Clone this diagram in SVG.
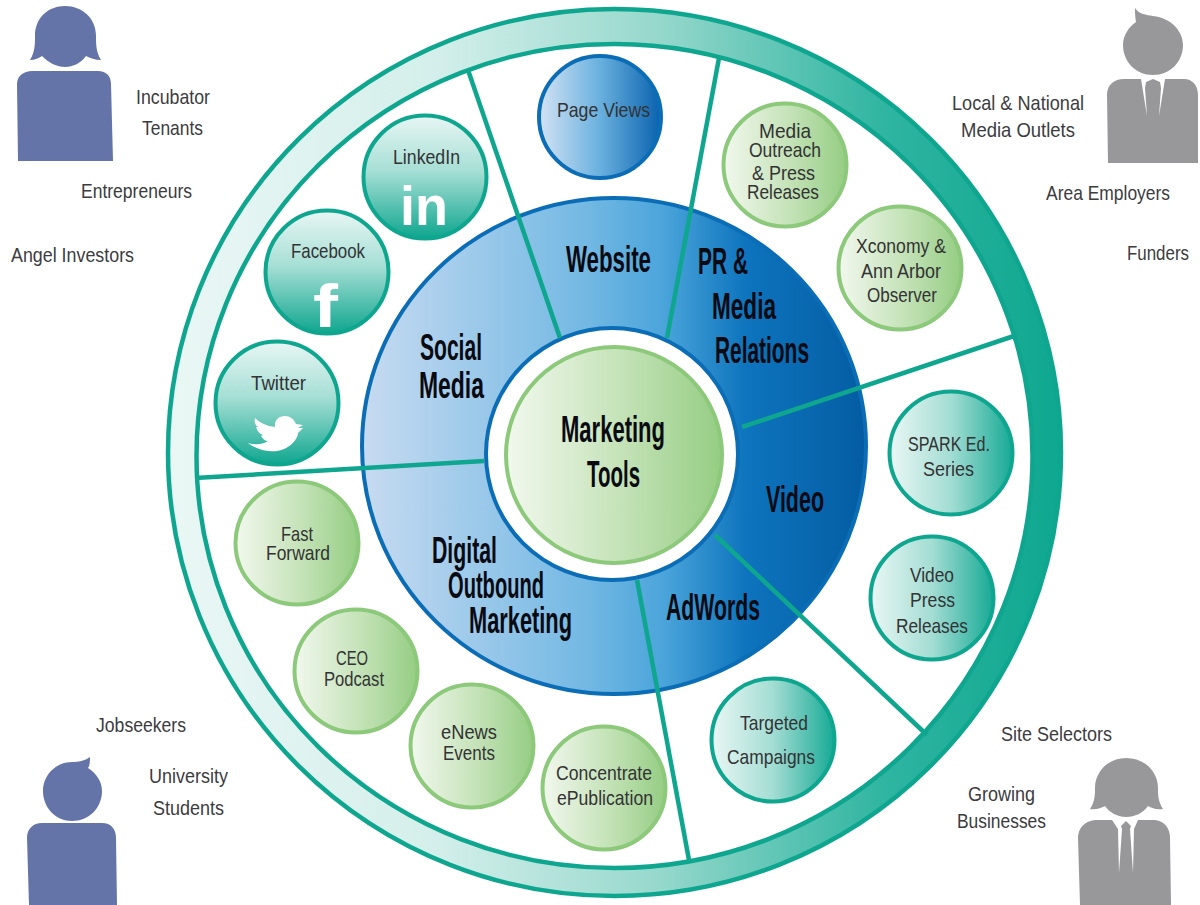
<svg xmlns="http://www.w3.org/2000/svg" width="1200" height="905" viewBox="0 0 1200 905">
<style>
text{font-family:"Liberation Sans",Arial,sans-serif}
.s{font-size:21px;fill:#3c3c3e}
.c{font-size:21px;fill:#333335}
.b{font-size:36px;font-weight:bold;fill:#0a0a12}
.ico{font-weight:bold;fill:#fff}
.spoke{stroke:#0fa68f;stroke-width:4.500;fill:none}
.tealv{fill:url(#tealV);stroke:#0fa68f;stroke-width:4}
.tealh{fill:url(#tealH);stroke:#0fa68f;stroke-width:4}
.green{fill:url(#grn);stroke:#8cc97b;stroke-width:4}
.blue{fill:#6474a8}
.grey{fill:#98989a}
</style>
<defs>
<linearGradient id="ringG" gradientUnits="userSpaceOnUse" x1="166" y1="0" x2="1063" y2="0"><stop offset="0" stop-color="#eaf7f5"/><stop offset=".3" stop-color="#d4efeb"/><stop offset=".55" stop-color="#96d8cc"/><stop offset=".8" stop-color="#2fb5a1"/><stop offset="1" stop-color="#0ea78f"/></linearGradient>
<linearGradient id="blueG" gradientUnits="userSpaceOnUse" x1="360" y1="0" x2="868" y2="0"><stop offset="0" stop-color="#c8dbf1"/><stop offset=".45" stop-color="#72b8e3"/><stop offset=".6" stop-color="#4aa4da"/><stop offset=".76" stop-color="#0d74bd"/><stop offset="1" stop-color="#045ca2"/></linearGradient>
<linearGradient id="tealV" x1="0" y1="0" x2="0" y2="1"><stop offset="0" stop-color="#e8f6f4"/><stop offset=".45" stop-color="#a6dfd5"/><stop offset="1" stop-color="#0fa68f"/></linearGradient>
<linearGradient id="tealH" x1="0" y1="0" x2="1" y2="0"><stop offset="0" stop-color="#eaf7f5"/><stop offset=".5" stop-color="#a3ddd3"/><stop offset="1" stop-color="#16aa95"/></linearGradient>
<linearGradient id="grn" x1="0" y1="0" x2="1" y2="0"><stop offset="0" stop-color="#f2f8ee"/><stop offset=".55" stop-color="#c3e2b6"/><stop offset="1" stop-color="#95cd83"/></linearGradient>
<linearGradient id="pv" x1="0" y1="0" x2="1" y2="0"><stop offset="0" stop-color="#d3e3f4"/><stop offset=".5" stop-color="#69b0de"/><stop offset="1" stop-color="#0a62ae"/></linearGradient>
</defs>

<g id="outer-ring">
<path fill="url(#ringG)" stroke="#0fa68f" stroke-width="4.500" fill-rule="evenodd" d="M168,452.500a446.500,443.500 0 1,0 893,0a446.500,443.500 0 1,0 -893,0ZM196.500,456a418,412 0 1,0 836,0a418,412 0 1,0 -836,0Z"/>
</g>
<g id="category-ring">
<ellipse cx="614" cy="446" rx="252" ry="248" fill="url(#blueG)" stroke="#0b6db6" stroke-width="4"/>
<circle cx="612" cy="454" r="126" fill="#fff" stroke="#0b6db6" stroke-width="4"/>
</g>
<g id="connectors">
<line class="spoke" x1="468" y1="70" x2="560" y2="338"/>
<line class="spoke" x1="719" y1="58" x2="667" y2="338"/>
<line class="spoke" x1="1017" y1="335" x2="742" y2="427"/>
<line class="spoke" x1="927" y1="735" x2="715" y2="535"/>
<line class="spoke" x1="689" y1="860" x2="637" y2="580"/>
<line class="spoke" x1="195" y1="478" x2="484" y2="461"/>
</g>
<g id="category-labels">
<text class="b" x="566" y="272" textLength="85" lengthAdjust="spacingAndGlyphs">Website</text>
<text class="b" x="698" y="274" textLength="50" lengthAdjust="spacingAndGlyphs">PR &amp;</text>
<text class="b" x="712" y="319" textLength="64" lengthAdjust="spacingAndGlyphs">Media</text>
<text class="b" x="715" y="363" textLength="94" lengthAdjust="spacingAndGlyphs">Relations</text>
<text class="b" x="420" y="360" textLength="62" lengthAdjust="spacingAndGlyphs">Social</text>
<text class="b" x="419" y="398" textLength="65" lengthAdjust="spacingAndGlyphs">Media</text>
<text class="b" x="766" y="512" textLength="58" lengthAdjust="spacingAndGlyphs">Video</text>
<text class="b" x="666" y="620" textLength="94" lengthAdjust="spacingAndGlyphs">AdWords</text>
<text class="b" x="432" y="563" textLength="65" lengthAdjust="spacingAndGlyphs">Digital</text>
<text class="b" x="448" y="598" textLength="96" lengthAdjust="spacingAndGlyphs">Outbound</text>
<text class="b" x="469" y="633" textLength="103" lengthAdjust="spacingAndGlyphs">Marketing</text>
</g>
<g id="center">
<circle cx="614" cy="455" r="108" fill="url(#grn)" stroke="#8cc97b" stroke-width="4"/>
<text class="b" x="561" y="442" textLength="104" lengthAdjust="spacingAndGlyphs">Marketing</text>
<text class="b" x="587" y="487" textLength="53" lengthAdjust="spacingAndGlyphs">Tools</text>
</g>
<g id="page-views">
<circle cx="600" cy="117" r="61" fill="url(#pv)" stroke="#0b6db6" stroke-width="4"/>
<text class="c" x="557" y="117" textLength="93" lengthAdjust="spacingAndGlyphs">Page Views</text>
</g>
<g id="media-outreach">
<circle class="green" cx="785" cy="165" r="61.500"/>
<text class="c" x="759" y="138" textLength="52" lengthAdjust="spacingAndGlyphs">Media</text>
<text class="c" x="749" y="157" textLength="72" lengthAdjust="spacingAndGlyphs">Outreach</text>
<text class="c" x="752" y="180" textLength="63" lengthAdjust="spacingAndGlyphs">&amp; Press</text>
<text class="c" x="747" y="199" textLength="72" lengthAdjust="spacingAndGlyphs">Releases</text>
</g>
<g id="xconomy">
<circle class="green" cx="900" cy="268" r="61.500"/>
<text class="c" x="856" y="253" textLength="90" lengthAdjust="spacingAndGlyphs">Xconomy &amp;</text>
<text class="c" x="861" y="278" textLength="80" lengthAdjust="spacingAndGlyphs">Ann Arbor</text>
<text class="c" x="867" y="302" textLength="70" lengthAdjust="spacingAndGlyphs">Observer</text>
</g>
<g id="linkedin">
<circle class="tealv" cx="425" cy="177" r="61.500"/>
<text class="c" x="393" y="164" textLength="67" lengthAdjust="spacingAndGlyphs">LinkedIn</text>
<text class="ico" x="400" y="225" font-size="55" textLength="48" lengthAdjust="spacingAndGlyphs">in</text>
</g>
<g id="facebook">
<circle class="tealv" cx="327" cy="272" r="61.500"/>
<text class="c" x="291" y="258" textLength="74" lengthAdjust="spacingAndGlyphs">Facebook</text>
<text class="ico" x="313" y="327" font-size="62" textLength="25" lengthAdjust="spacingAndGlyphs">f</text>
</g>
<g id="twitter">
<circle class="tealv" cx="277" cy="403" r="61.500"/>
<text class="c" x="251" y="390" textLength="55" lengthAdjust="spacingAndGlyphs">Twitter</text>
<path fill="#fff" d="M248,443C257,450 268,452 277,451C290,449 298,439 298,433L303,428L298,428L303,425L296,424C294,419 290,416 285,416C278,416 274,421 275,427C267,426 260,423 255,418C254,422 255,425 258,427L256,427C257,431 260,434 263,435L261,436C263,439 265,441 268,441C262,445 255,445 248,443Z"/>
</g>
<g id="spark">
<circle class="tealh" cx="951" cy="453" r="61.500"/>
<text class="c" x="908" y="451" textLength="82" lengthAdjust="spacingAndGlyphs">SPARK Ed.</text>
<text class="c" x="923" y="476" textLength="51" lengthAdjust="spacingAndGlyphs">Series</text>
</g>
<g id="video-press">
<circle class="tealh" cx="932" cy="598" r="61.500"/>
<text class="c" x="910" y="582" textLength="44" lengthAdjust="spacingAndGlyphs">Video</text>
<text class="c" x="910" y="607" textLength="45" lengthAdjust="spacingAndGlyphs">Press</text>
<text class="c" x="896" y="633" textLength="72" lengthAdjust="spacingAndGlyphs">Releases</text>
</g>
<g id="targeted">
<circle class="tealh" cx="773" cy="740" r="61.500"/>
<text class="c" x="740" y="730" textLength="68" lengthAdjust="spacingAndGlyphs">Targeted</text>
<text class="c" x="727" y="764" textLength="88" lengthAdjust="spacingAndGlyphs">Campaigns</text>
</g>
<g id="fast-forward">
<circle class="green" cx="297" cy="543" r="61.500"/>
<text class="c" x="281" y="541" textLength="32" lengthAdjust="spacingAndGlyphs">Fast</text>
<text class="c" x="266" y="560" textLength="64" lengthAdjust="spacingAndGlyphs">Forward</text>
</g>
<g id="ceo-podcast">
<circle class="green" cx="356" cy="671" r="61.500"/>
<text class="c" x="336" y="665" textLength="32" lengthAdjust="spacingAndGlyphs">CEO</text>
<text class="c" x="324" y="686" textLength="60" lengthAdjust="spacingAndGlyphs">Podcast</text>
</g>
<g id="enews">
<circle class="green" cx="472" cy="746" r="61.500"/>
<text class="c" x="441" y="739" textLength="56" lengthAdjust="spacingAndGlyphs">eNews</text>
<text class="c" x="443" y="760" textLength="52" lengthAdjust="spacingAndGlyphs">Events</text>
</g>
<g id="concentrate">
<circle class="green" cx="604" cy="788" r="61.500"/>
<text class="c" x="556" y="780" textLength="96" lengthAdjust="spacingAndGlyphs">Concentrate</text>
<text class="c" x="557" y="805" textLength="96" lengthAdjust="spacingAndGlyphs">ePublication</text>
</g>
<g id="person-top-left">
<path class="blue" d="M30,60C35,52 35,44 35,36C35,18 48,6 65,6C82,6 96,18 96,36C96,44 96,52 101,60C95,60 90,58 86,56C81,63 73,67 65,67C57,67 49,63 42,56C39,58 35,60 30,60Z"/>
<path class="blue" d="M17,84C17,76 24,71 32,71L98,71C106,71 111,76 111,84L113,161L18,161Z"/>
<text class="s" x="136" y="104" textLength="74" lengthAdjust="spacingAndGlyphs">Incubator</text>
<text class="s" x="142" y="135" textLength="61" lengthAdjust="spacingAndGlyphs">Tenants</text>
<text class="s" x="81" y="198" textLength="111" lengthAdjust="spacingAndGlyphs">Entrepreneurs</text>
<text class="s" x="11" y="262" textLength="123" lengthAdjust="spacingAndGlyphs">Angel Investors</text>
</g>
<g id="person-top-right">
<path class="grey" d="M1135,8C1139,14 1146,15 1153,16C1171,18 1183,31 1183,45C1183,62 1170,75 1153,75C1136,75 1123,62 1123,45C1123,35 1129,27 1136,22C1135,17 1135,12 1135,8Z"/>
<path class="grey" d="M1107,95C1107,85 1114,79 1124,79L1141,79L1147,116L1145,88L1146,82L1153,79L1160,82L1161,88L1159,116L1165,79L1184,79C1192,79 1198,85 1198,95L1198,163L1108,163Z"/>
<text class="s" x="952" y="110" textLength="132" lengthAdjust="spacingAndGlyphs">Local &amp; National</text>
<text class="s" x="961" y="137" textLength="114" lengthAdjust="spacingAndGlyphs">Media Outlets</text>
<text class="s" x="1046" y="200" textLength="124" lengthAdjust="spacingAndGlyphs">Area Employers</text>
<text class="s" x="1127" y="260" textLength="62" lengthAdjust="spacingAndGlyphs">Funders</text>
</g>
<g id="person-bottom-left">
<path class="blue" d="M90,757C90,761 90,765 88,768C97,774 102,782 102,791C102,808 89,821 72,821C56,821 43,808 43,791C43,775 56,762 72,762C78,762 85,761 90,757Z"/>
<path class="blue" d="M27,838C27,829 33,823 42,823L102,823C111,823 116,829 116,838L117,905L29,905Z"/>
<text class="s" x="96" y="732" textLength="90" lengthAdjust="spacingAndGlyphs">Jobseekers</text>
<text class="s" x="149" y="783" textLength="79" lengthAdjust="spacingAndGlyphs">University</text>
<text class="s" x="153" y="815" textLength="71" lengthAdjust="spacingAndGlyphs">Students</text>
</g>
<g id="person-bottom-right">
<path class="grey" d="M1090,809C1095,802 1095,794 1095,788C1095,771 1109,758 1126,758C1144,758 1158,771 1158,788C1158,794 1158,802 1163,809C1156,810 1152,808 1148,806C1143,813 1135,817 1126,817C1118,817 1110,813 1105,806C1101,808 1096,810 1090,809Z"/>
<path class="grey" d="M1078,838C1078,829 1084,821 1095,820L1112,820L1118,829L1119,873L1122,829L1121,826L1126,821L1131,826L1130,829L1133,873L1134,829L1138,820L1155,820C1165,821 1170,829 1170,838L1171,905L1080,905Z"/>
<text class="s" x="1001" y="741" textLength="111" lengthAdjust="spacingAndGlyphs">Site Selectors</text>
<text class="s" x="968" y="801" textLength="67" lengthAdjust="spacingAndGlyphs">Growing</text>
<text class="s" x="957" y="828" textLength="89" lengthAdjust="spacingAndGlyphs">Businesses</text>
</g>
</svg>
